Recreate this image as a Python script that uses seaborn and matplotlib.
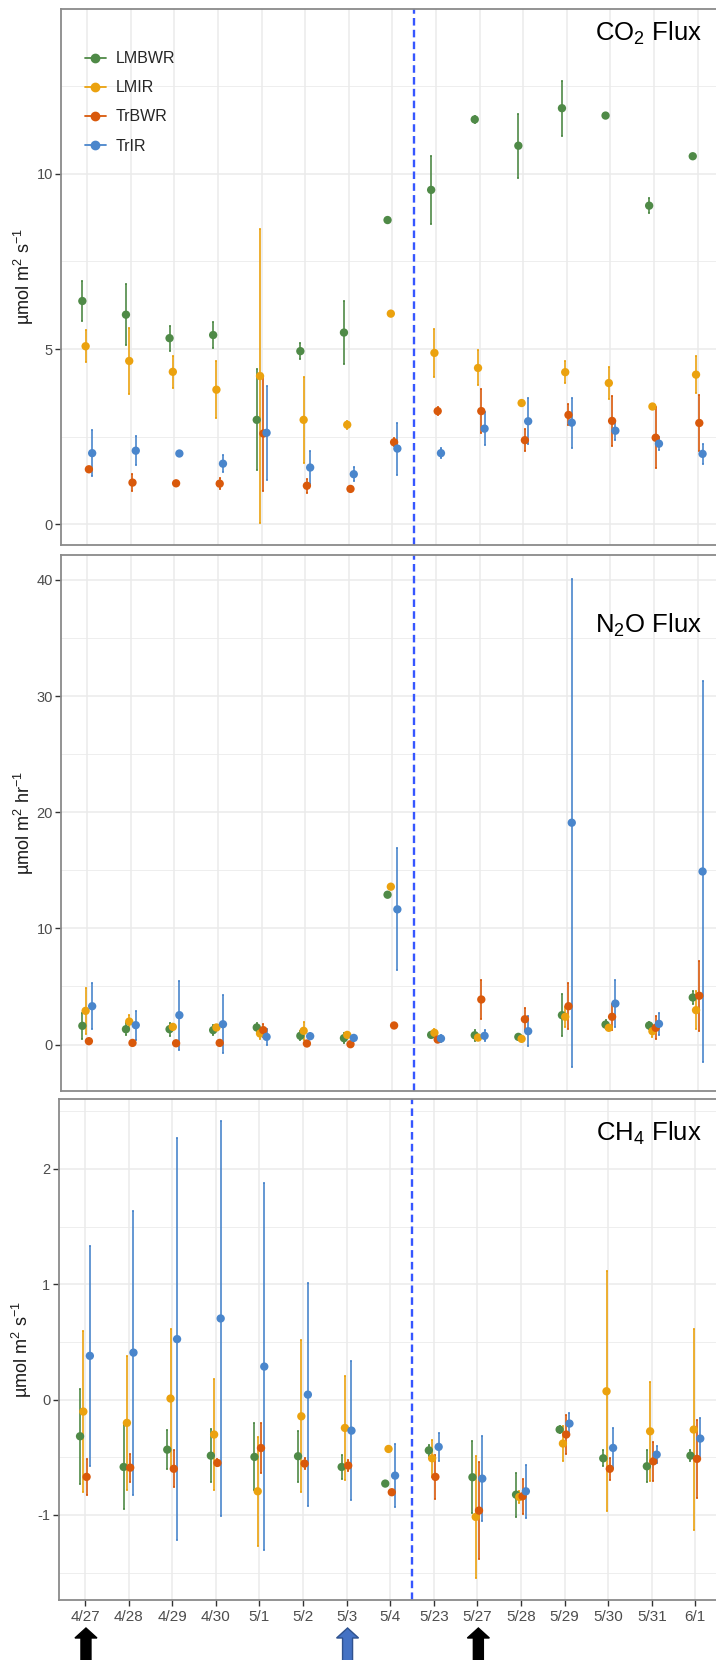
import numpy as np
import pandas as pd
import seaborn as sns
import matplotlib.pyplot as plt
from matplotlib.lines import Line2D
from matplotlib.patches import Polygon
from matplotlib.transforms import IdentityTransform
from matplotlib import font_manager

#----------------------
# Data (mean and SE)
#----------------------

dates = ['4/27', '4/28', '4/29', '4/30', '5/1', '5/2', '5/3', '5/4',
         '5/23', '5/27', '5/28', '5/29', '5/30', '5/31', '6/1']
series = ['LMBWR', 'LMIR', 'TrBWR', 'TrIR']

co2_mean = {
    'LMBWR': [6.37, 5.98, 5.31, 5.40, 2.98, 4.94, 5.47, 8.68, 9.54, 11.55, 10.80, 11.87, 11.66, 9.09, 10.50],
    'LMIR':  [5.08, 4.66, 4.35, 3.84, 4.23, 2.98, 2.84, 6.01, 4.89, 4.46, 3.46, 4.34, 4.03, 3.36, 4.27],
    'TrBWR': [1.57, 1.19, 1.17, 1.16, 2.59, 1.10, 1.01, 2.34, 3.23, 3.23, 2.40, 3.12, 2.95, 2.47, 2.89],
    'TrIR':  [2.03, 2.10, 2.02, 1.73, 2.61, 1.62, 1.43, 2.16, 2.03, 2.73, 2.94, 2.90, 2.67, 2.30, 2.01],
}
co2_se = {
    'LMBWR': [0.56, 0.87, 0.36, 0.38, 1.44, 0.22, 0.90, 0.04, 0.96, 0.09, 0.91, 0.78, 0.05, 0.22, 0.05],
    'LMIR':  [0.46, 0.95, 0.45, 0.81, 4.20, 1.23, 0.12, 0.05, 0.69, 0.50, 0.05, 0.32, 0.46, 0.05, 0.53],
    'TrBWR': [0.06, 0.24, 0.05, 0.15, 1.63, 0.20, 0.05, 0.12, 0.12, 0.62, 0.32, 0.30, 0.71, 0.87, 0.81],
    'TrIR':  [0.65, 0.41, 0.05, 0.25, 1.34, 0.48, 0.20, 0.74, 0.15, 0.47, 0.66, 0.71, 0.26, 0.18, 0.28],
}

n2o_mean = {
    'LMBWR': [1.61, 1.32, 1.32, 1.24, 1.47, 0.75, 0.55, 12.90, 0.83, 0.80, 0.66, 2.53, 1.72, 1.64, 4.05],
    'LMIR':  [2.90, 1.98, 1.52, 1.47, 0.95, 1.18, 0.83, 13.59, 1.01, 0.60, 0.49, 2.39, 1.44, 1.15, 2.96],
    'TrBWR': [0.29, 0.14, 0.11, 0.14, 1.24, 0.09, 0.03, 1.64, 0.43, 3.88, 2.18, 3.30, 2.39, 1.44, 4.20],
    'TrIR':  [3.30, 1.67, 2.53, 1.75, 0.66, 0.72, 0.57, 11.64, 0.52, 0.75, 1.15, 19.10, 3.53, 1.78, 14.90],
}
n2o_se = {
    'LMBWR': [1.10, 0.50, 0.56, 0.40, 0.35, 0.40, 0.42, 0.10, 0.15, 0.49, 0.10, 1.81, 0.38, 0.33, 0.53],
    'LMIR':  [2.00, 0.60, 0.25, 0.20, 0.47, 0.77, 0.25, 0.10, 0.36, 0.20, 0.15, 0.87, 0.20, 0.50, 1.66],
    'TrBWR': [0.10, 0.05, 0.05, 0.05, 0.55, 0.05, 0.05, 0.10, 0.10, 1.65, 0.96, 2.00, 1.12, 0.98, 3.00],
    'TrIR':  [2.00, 1.24, 2.98, 2.48, 0.70, 0.25, 0.29, 5.25, 0.29, 0.48, 1.27, 21.00, 2.00, 0.97, 16.40],
}

ch4_mean = {
    'LMBWR': [-0.318, -0.584, -0.434, -0.486, -0.497, -0.491, -0.584, -0.728, -0.440, -0.673, -0.824, -0.260, -0.509, -0.578, -0.486],
    'LMIR':  [-0.104, -0.202, 0.009, -0.303, -0.795, -0.145, -0.246, -0.428, -0.509, -1.017, -0.844, -0.381, 0.072, -0.275, -0.260],
    'TrBWR': [-0.670, -0.590, -0.600, -0.549, -0.420, -0.555, -0.572, -0.803, -0.670, -0.962, -0.838, -0.303, -0.600, -0.535, -0.514],
    'TrIR':  [0.379, 0.407, 0.524, 0.703, 0.286, 0.043, -0.269, -0.659, -0.410, -0.685, -0.795, -0.208, -0.419, -0.477, -0.338],
}
ch4_se = {
    'LMBWR': [0.410, 0.360, 0.170, 0.230, 0.290, 0.220, 0.100, 0.020, 0.050, 0.310, 0.190, 0.030, 0.070, 0.140, 0.045],
    'LMIR':  [0.700, 0.580, 0.600, 0.480, 0.470, 0.660, 0.450, 0.020, 0.160, 0.530, 0.050, 0.150, 1.040, 0.430, 0.870],
    'TrBWR': [0.155, 0.120, 0.160, 0.030, 0.220, 0.045, 0.050, 0.020, 0.190, 0.420, 0.150, 0.170, 0.095, 0.170, 0.340],
    'TrIR':  [0.955, 1.230, 1.740, 1.710, 1.590, 0.965, 0.600, 0.270, 0.120, 0.370, 0.230, 0.095, 0.170, 0.075, 0.180],
}

colors = {'LMBWR': '#4f8a47', 'LMIR': '#eba20f', 'TrBWR': '#d9590b', 'TrIR': '#4a86cc'}
dodge = dict(zip(series, [-0.1125, -0.0375, 0.0375, 0.1125]))

#----------------------
# Long tables
#----------------------

def long_table(means, ses):
    rows = []
    for s in series:
        for i, d in enumerate(dates):
            rows.append({'date': d, 'series': s, 'x': i + dodge[s],
                         'mean': means[s][i], 'se': ses[s][i]})
    return pd.DataFrame(rows)

co2_df = long_table(co2_mean, co2_se)
n2o_df = long_table(n2o_mean, n2o_se)
ch4_df = long_table(ch4_mean, ch4_se)

#----------------------
# Style
#----------------------

sns.set_style('whitegrid')
names = {f.name for f in font_manager.fontManager.ttflist}
narrow = 'Liberation Sans Narrow' if 'Liberation Sans Narrow' in names else 'Liberation Sans'
plt.rcParams['font.family'] = [narrow, 'DejaVu Sans']
plt.rcParams['mathtext.fontset'] = 'custom'
plt.rcParams['mathtext.rm'] = 'Liberation Sans'
plt.rcParams['mathtext.it'] = 'Liberation Sans:italic'
plt.rcParams['axes.unicode_minus'] = False

W, H = 716, 1660
fig = plt.figure(figsize=(W / 100, H / 100), dpi=100)

def panel_axes(left, top, bottom):
    width = 15.2 * 43.6
    return fig.add_axes([left / W, (H - bottom) / H, width / W, (bottom - top) / H])

ax1 = panel_axes(61.1, 9, 545)
ax2 = panel_axes(61.1, 555, 1091)
ax3 = panel_axes(58.8, 1099, 1600)

def draw_panel(ax, df, ylim, major, minor, ylabel):
    ax.set_xlim(-0.6, 14.6)
    ax.set_ylim(*ylim)
    ax.set_xticks(range(len(dates)))
    ax.set_yticks(major)
    ax.set_yticks(minor, minor=True)
    ax.grid(which='major', color='#ebebeb', lw=1.1)
    ax.grid(which='minor', axis='y', color='#ebebeb', lw=0.6)
    ax.grid(which='minor', axis='x', visible=False)
    ax.axvline(7.5, color='#3656ff', lw=1.7, ls=(0, (3.2, 1.8)), zorder=1.5)
    for s in series:
        sub = df[df['series'] == s]
        ax.errorbar(sub['x'], sub['mean'], yerr=sub['se'], fmt='none',
                    ecolor=colors[s], elinewidth=1.2, capsize=0.8, capthick=1.2, zorder=2)
    sns.scatterplot(data=df, x='x', y='mean', hue='series', palette=colors,
                    s=36, linewidth=0, legend=False, ax=ax, zorder=3)
    ax.set_xlabel('')
    ax.set_ylabel(ylabel, fontsize=13, family='Liberation Sans', color='#1a1a1a')
    ax.yaxis.set_label_coords(-0.0375, 0.5)
    ax.tick_params(axis='y', which='major', length=4, width=1, color='#333333',
                   labelsize=10.5, labelcolor='#4d4d4d', pad=2, left=True)
    ax.tick_params(axis='y', which='minor', length=0)
    for sp in ax.spines.values():
        sp.set_color('#8a8a8a')
        sp.set_linewidth(1.3)

draw_panel(ax1, co2_df, (-0.59, 14.7), [0, 5, 10], [2.5, 7.5, 12.5],
           'µmol m$^{2}$ s$^{-1}$')
draw_panel(ax2, n2o_df, (-4.0, 42.15), [0, 10, 20, 30, 40], [5, 15, 25, 35],
           'µmol m$^{2}$ hr$^{-1}$')
draw_panel(ax3, ch4_df, (-1.737, 2.605), [-1, 0, 1, 2], [-1.5, -0.5, 0.5, 1.5, 2.5],
           'µmol m$^{2}$ s$^{-1}$')

for ax in (ax1, ax2):
    ax.tick_params(axis='x', length=0, labelbottom=False)
ax3.set_xticklabels(dates)
ax3.tick_params(axis='x', length=4, width=1, color='#333333', labelsize=11,
                labelcolor='#4d4d4d', pad=3, bottom=True)

# legend
handles = [Line2D([0], [0], color=colors[s], marker='o', markersize=6, lw=1.3) for s in series]
ax1.legend(handles, series, loc='upper left', bbox_to_anchor=(0.036, 0.921),
           frameon=False, fontsize=11.5, handlelength=1.3, handletextpad=0.6,
           labelspacing=0.88, borderaxespad=0, borderpad=0)

# panel titles
for y, title in [(33, 'CO$_2$ Flux'), (625, 'N$_2$O Flux'), (1133, 'CH$_4$ Flux')]:
    fig.text(702 / W, 1 - y / H, title, ha='right', va='center', fontsize=18.5,
             family='Liberation Sans', color='black')

#----------------------
# Arrows under dates
#----------------------

def up_arrow(idx, face, edge):
    cx = ax3.transData.transform((idx, 0))[0] + 1
    pts = [(cx, 32), (cx + 11, 22), (cx + 5, 22), (cx + 5, -3),
           (cx - 5, -3), (cx - 5, 22), (cx - 11, 22)]
    fig.patches.append(Polygon(pts, closed=True, facecolor=face, edgecolor=edge,
                               lw=1, transform=IdentityTransform(), figure=fig))

up_arrow(dates.index('4/27'), 'black', 'black')
up_arrow(dates.index('5/27'), 'black', 'black')
up_arrow(dates.index('5/3'), '#4472c4', '#2f528f')

plt.savefig('out.png', dpi=100)
